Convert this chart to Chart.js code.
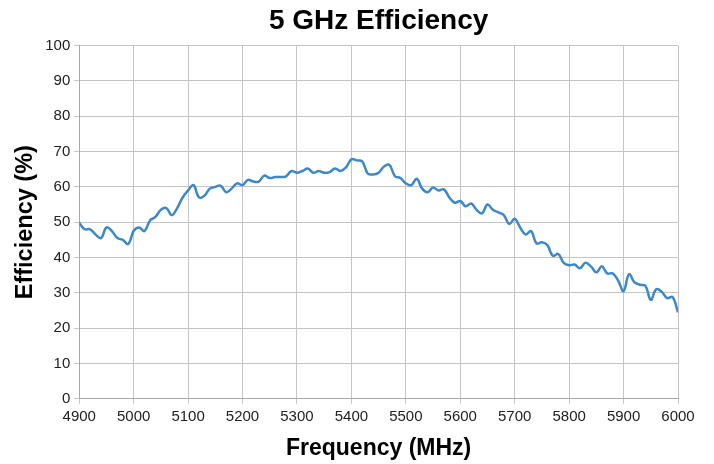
<!DOCTYPE html>
<html>
<head>
<meta charset="utf-8">
<script src="https://cdn.jsdelivr.net/npm/chart.js@4/dist/chart.umd.min.js"></script>
<style>
html,body{margin:0;padding:0;background:#fff;}
#wrap{width:714px;height:464px;position:relative;}
</style>
</head>
<body>
<div id="wrap"><canvas id="c" width="714" height="464"></canvas></div>
<script>
const frequencies = [4900,4910,4920,4930,4940,4950,4960,4970,4980,4990,
5000,5010,5020,5030,5040,5050,5060,5070,5080,5090,
5100,5110,5120,5130,5140,5150,5160,5170,5180,5190,
5200,5210,5220,5230,5240,5250,5260,5270,5280,5290,
5300,5310,5320,5330,5340,5350,5360,5370,5380,5390,
5400,5410,5420,5430,5440,5450,5460,5470,5480,5490,
5500,5510,5520,5530,5540,5550,5560,5570,5580,5590,
5600,5610,5620,5630,5640,5650,5660,5670,5680,5690,
5700,5710,5720,5730,5740,5750,5760,5770,5780,5790,
5800,5810,5820,5830,5840,5850,5860,5870,5880,5890,
5900,5910,5920,5930,5940,5950,5960,5970,5980,5990,6000];
const efficiency = [49.8,48,48,46.5,45.5,48.5,47.5,45.5,45,43.8,
47.5,48.5,47.5,50.5,51.5,53.5,54,52,54,57,
59,60.5,57,57.5,59.5,60,60.3,58.5,59.5,61,
60.5,62,61.5,61.5,63.2,62.5,62.8,62.8,63,64.5,
64,64.5,65.2,64,64.5,64,64.2,65.2,64.5,65.5,
67.8,67.5,67.2,63.8,63.5,64,65.8,66.2,63,62.5,
61,60.5,62.3,59.5,58.5,59.8,59,59.3,57,55.5,
56,54.5,55.3,53.5,52.5,55,53.5,52.8,52,49.5,
51,48.5,46.5,47.5,44,44.3,43.5,40.5,41,38.5,
37.8,38,37,38.5,37.5,35.8,37.5,35.5,35.5,33.5,
30.5,35.3,33,32.3,32,28,31,30.3,28.5,28.8,24.5];
const xTicks = [4900,5000,5100,5200,5300,5400,5500,5600,5700,5800,5900,6000];
const yTicks = [0,10,20,30,40,50,60,70,80,90,100];

const points = frequencies.map((f,i)=>({x:f,y:efficiency[i]}));
const FONT = '"Liberation Sans", Arial, sans-serif';

new Chart(document.getElementById('c'), {
  type: 'line',
  data: { datasets: [{
    data: points,
    borderColor: '#3f88c8',
    borderWidth: 2.5,
    pointRadius: 0,
    tension: 0.4,
    fill: false
  }]},
  options: {
    responsive: false,
    animation: false,
    devicePixelRatio: 1,
    layout: { padding: { left: 4, right: 36, top: 4, bottom: 2 } },
    plugins: {
      legend: { display: false },
      tooltip: { enabled: false },
      title: {
        display: true,
        fullSize: false,
        text: '5 GHz Efficiency',
        color: '#000',
        font: { family: FONT, size: 28, weight: 'bold' },
        padding: { top: 0, bottom: 8 }
      }
    },
    scales: {
      x: {
        type: 'linear',
        min: 4900, max: 6000,
        afterBuildTicks: (axis) => { axis.ticks = xTicks.map(v=>({value:v})); },
        ticks: { color: '#222', font: { family: FONT, size: 15 }, maxRotation: 0, padding: 4,
                 callback: (v) => String(v) },
        grid: { color: '#c4c4c4', lineWidth: 1, tickLength: 5, drawTicks: true },
        border: { color: '#a8a8a8' },
        title: { display: true, text: 'Frequency (MHz)', color: '#000',
                 font: { family: FONT, size: 23, weight: 'bold' }, padding: { top: 4.6, bottom: 0 } }
      },
      y: {
        min: 0, max: 100,
        afterBuildTicks: (axis) => { axis.ticks = yTicks.map(v=>({value:v})); },
        ticks: { color: '#222', font: { family: FONT, size: 15 }, padding: 4,
                 callback: (v) => String(v) },
        grid: { color: '#c4c4c4', lineWidth: 1, tickLength: 5 },
        border: { color: '#a8a8a8' },
        title: { display: true, text: 'Efficiency (%)', color: '#000',
                 font: { family: FONT, size: 23.5, weight: 'bold' }, padding: { top: 7, bottom: 2 } }
      }
    }
  }
});
</script>
</body>
</html>
